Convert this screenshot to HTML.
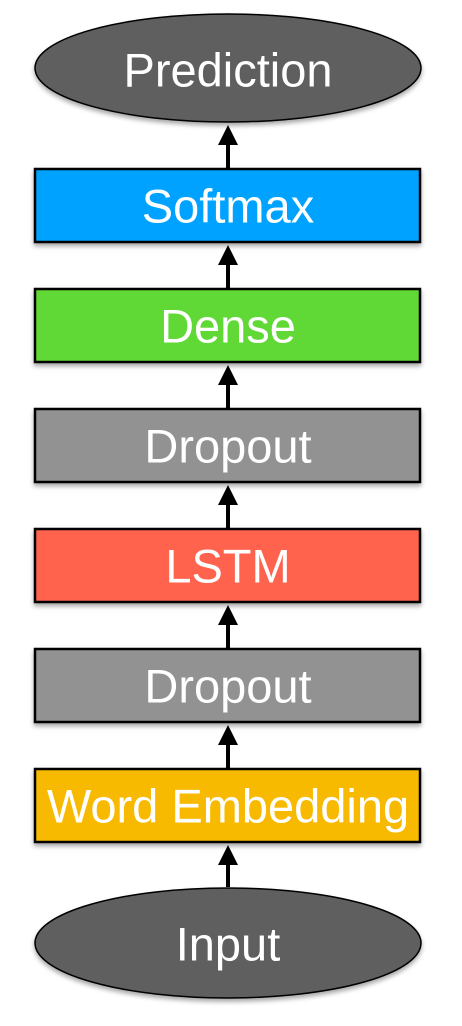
<!DOCTYPE html>
<html><head><meta charset="utf-8"><style>
html,body{margin:0;padding:0;background:#fff;}
svg{display:block;}
text{font-family:"Liberation Sans",sans-serif;font-size:47px;fill:#fff;text-anchor:middle;dominant-baseline:central;}
</style></head><body>
<svg width="462" height="1026" viewBox="0 0 462 1026" xmlns="http://www.w3.org/2000/svg">
<defs>
<filter id="sh" x="-10%" y="-10%" width="120%" height="130%"><feDropShadow dx="0" dy="3" stdDeviation="2.5" flood-color="#000" flood-opacity="0.35"/></filter>
</defs>
<g stroke="#000" stroke-width="2.5" filter="url(#sh)">
<ellipse cx="228" cy="68" rx="193" ry="54" fill="#5e5e5e" stroke-width="1.5"/>
<rect x="35" y="169" width="385" height="73" fill="#00a2ff"/>
<rect x="35" y="289" width="385" height="73" fill="#61d836"/>
<rect x="35" y="409" width="385" height="73" fill="#929292"/>
<rect x="35" y="529" width="385" height="73" fill="#ff644e"/>
<rect x="35" y="649" width="385" height="73" fill="#929292"/>
<rect x="35" y="769" width="385" height="73" fill="#f8ba00"/>
<ellipse cx="228" cy="943" rx="193" ry="55" fill="#5e5e5e" stroke-width="1.5"/>
</g>
<g fill="#000" stroke="#000" stroke-width="4">
<line x1="228" y1="168" x2="228" y2="142"/><polygon points="228,125 218,145 238,145" stroke="none"/>
<line x1="228" y1="288" x2="228" y2="262"/><polygon points="228,245 218,265 238,265" stroke="none"/>
<line x1="228" y1="408" x2="228" y2="382"/><polygon points="228,365 218,385 238,385" stroke="none"/>
<line x1="228" y1="528" x2="228" y2="502"/><polygon points="228,485 218,505 238,505" stroke="none"/>
<line x1="228" y1="648" x2="228" y2="622"/><polygon points="228,605 218,625 238,625" stroke="none"/>
<line x1="228" y1="768" x2="228" y2="742"/><polygon points="228,725 218,745 238,745" stroke="none"/>
<line x1="228" y1="887" x2="228" y2="862"/><polygon points="228,845 218,865 238,865" stroke="none"/>
</g>
<text x="228" y="70">Prediction</text>
<text x="228" y="206">Softmax</text>
<text x="228" y="326">Dense</text>
<text x="228" y="446">Dropout</text>
<text x="228" y="566">LSTM</text>
<text x="228" y="686">Dropout</text>
<text x="228" y="806">Word Embedding</text>
<text x="228" y="944">Input</text>
</svg>
</body></html>
